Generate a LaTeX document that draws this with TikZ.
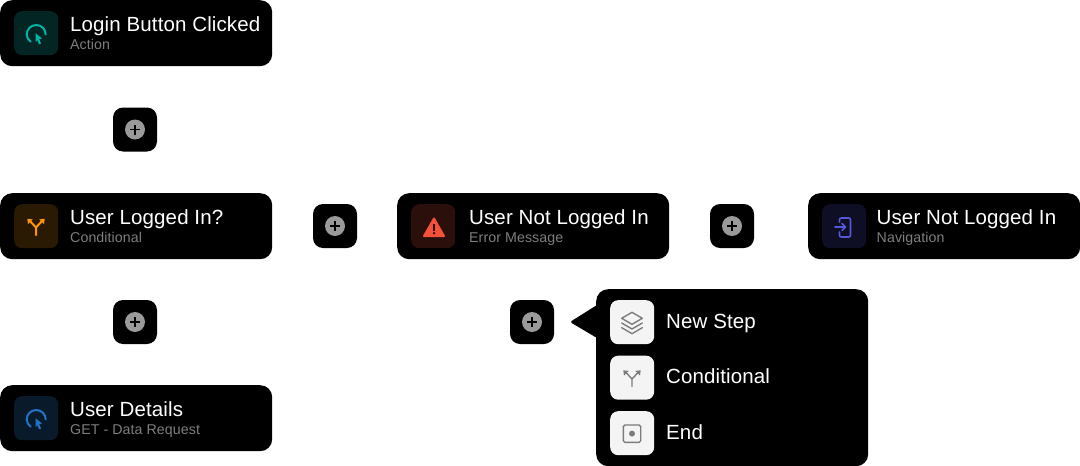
\documentclass[tikz,border=0pt]{standalone}
\usepackage{fontspec}
\usetikzlibrary{calc}
\setmainfont{Liberation Sans}[LetterSpace=0.6]
\definecolor{subgray}{HTML}{7E7E7E}
\definecolor{plusgray}{HTML}{9A9A9A}
\definecolor{tealc}{HTML}{00B5A5}\definecolor{tealt}{HTML}{032524}
\definecolor{orangec}{HTML}{FF9500}\definecolor{oranget}{HTML}{2A1A04}
\definecolor{redc}{HTML}{F55139}\definecolor{redt}{HTML}{2A0F0B}
\definecolor{indigoc}{HTML}{5458DC}\definecolor{indigot}{HTML}{0E0E24}
\definecolor{bluec}{HTML}{1F73C8}\definecolor{bluet}{HTML}{091B2A}
\definecolor{menutile}{HTML}{F4F4F5}\definecolor{menuicon}{HTML}{7C7C7C}
\tikzset{
 card/.style={fill=black,rounded corners=12pt,minimum width=272pt,minimum height=66pt,inner sep=0pt,anchor=north west},
 tile/.style={rounded corners=8pt,minimum width=44pt,minimum height=44pt,inner sep=0pt,anchor=north west},
 addbtn/.style={fill=black,rounded corners=10pt,minimum width=44pt,minimum height=44pt,inner sep=0pt,anchor=center},
 menubox/.style={fill=black,rounded corners=12pt,minimum width=272pt,minimum height=177pt,inner sep=0pt,anchor=north west},
 titletext/.style={text=white,inner sep=0pt,anchor=base west,font=\fontsize{20.5}{24}\selectfont},
 subtext/.style={text=subgray,inner sep=0pt,anchor=base west,font=\fontsize{14.2}{17}\selectfont},
 menutext/.style={text=white,inner sep=0pt,anchor=base west,font=\fontsize{20.5}{24}\selectfont},
 icn/.style={line width=2pt,line cap=round,line join=round},
}
\newcommand{\cursoricon}[1]{%
 \draw[icn,#1] (16.7,30.7) .. controls (14.2,29) and (12.7,26.4) .. (12.7,23.5) .. controls (12.7,18.26) and (16.96,14) .. (22.2,14) .. controls (27.44,14) and (31.7,18.26) .. (31.7,23.5);
 \fill[#1] (21.7,22.3) -- (28,27.5) -- (25.3,28) -- (27,32.5) -- (25,33.3) -- (23.3,29) -- (21.7,31) -- cycle;}
\newcommand{\forkicon}[2][2pt]{%
 \draw[line width=#1,line cap=round,line join=round,#2] (22,31) -- (22,23.5) -- (15.5,16.5);
 \draw[line width=#1,line cap=round,line join=round,#2] (22,23.5) -- (28.5,16.5);
 \fill[#2] (13.3,14.8) -- (18.8,15.4) -- (14,20) -- cycle;
 \fill[#2] (30.7,14.8) -- (25.2,15.4) -- (30,20) -- cycle;}
\newcommand{\warnicon}[1]{%
 \draw[#1,fill=#1,line width=2pt,line join=round] (23,14.5) -- (33,32) -- (13,32) -- cycle;
 \fill[black!85!#1] (22,19.5) rectangle (24,27);
 \fill[black!85!#1] (23,29.2) circle (1.3);}
\newcommand{\navicon}[1]{%
 \draw[line width=1.6pt,line cap=round,line join=round,#1] (17.5,18) -- (17.5,16) .. controls (17.5,14.5) and (18,14) .. (19.5,14) -- (26.5,14) .. controls (28,14) and (28.5,14.5) .. (28.5,16) -- (28.5,31) .. controls (28.5,32.5) and (28,33) .. (26.5,33) -- (19.5,33) .. controls (18,33) and (17.5,32.5) .. (17.5,31) -- (17.5,28);
 \draw[line width=1.6pt,line cap=round,line join=round,#1] (13,23) -- (23.5,23) (20,19.5) -- (23.5,23) -- (20,26.5);}
\newcommand{\layersicon}{%
 \draw[menuicon,line width=1.4pt,line join=round] (22,12.3) -- (32.3,18.3) -- (22,24.3) -- (11.7,18.3) -- cycle;
 \draw[menuicon,line width=1.4pt,line join=round,line cap=round] (11.7,23) -- (22,29) -- (32.3,23);
 \draw[menuicon,line width=1.4pt,line join=round,line cap=round] (11.7,27.7) -- (22,33.7) -- (32.3,27.7);}
\newcommand{\stopicon}{%
 \draw[menuicon,line width=1.4pt,rounded corners=1.5pt] (13.3,14) rectangle (30.7,31.3);
 \fill[menuicon] (22,22.6) circle (3);}
\newcommand{\cardnode}[8]{%
 \node[card] (#1) at (#2,#3) {};
 \node[tile,fill=#4] (#1tile) at (#2+14,#3+11) {};
 \begin{scope}[shift={(#2+14,#3+11)}]#7\end{scope}
 \node[titletext] (#1title) at (#2+#8,#3+31) {#5};
 \node[subtext] (#1sub) at (#2+#8,#3+49) {#6};}
\newcommand{\addnode}[3]{%
 \node[addbtn] (#1) at (#2,#3) {};
 \fill[plusgray] (#1.center) circle (10);
 \draw[black,line width=1.4pt] ($(#1.center)+(-5,0)$) -- ($(#1.center)+(5,0)$);
 \draw[black,line width=1.4pt] ($(#1.center)+(0,-5)$) -- ($(#1.center)+(0,5)$);}
\begin{document}
\begin{tikzpicture}[x=1pt,y=-1pt]
\useasboundingbox (0,0) rectangle (1080,466);
\fill[white] (0,0) rectangle (1080,466);
\cardnode{login}{0}{0}{tealt}{Login Button Clicked}{Action}{\cursoricon{tealc}}{70}
\cardnode{cond}{0}{193}{oranget}{User Logged In?}{Conditional}{\forkicon{orangec}}{70}
\cardnode{details}{0}{385}{bluet}{User Details}{GET - Data Request}{\cursoricon{bluec}}{70}
\cardnode{error}{397}{193}{redt}{User Not Logged In}{Error Message}{\warnicon{redc}}{72}
\cardnode{nav}{808}{193}{indigot}{User Not Logged In}{Navigation}{\navicon{indigoc}}{68.5}
\addnode{addA}{135}{129.5}
\addnode{addB}{135}{322}
\addnode{addC}{335}{226}
\addnode{addD}{732}{226}
\addnode{addE}{532}{322}
\node[menubox] (menu) at (596,289) {};
\fill[black,rounded corners=1.5pt] (597,305) -- (570,322) -- (597,338) -- cycle;
\node[tile,fill=menutile] (tileA) at (610,300) {};
\node[tile,fill=menutile] (tileB) at (610,355.5) {};
\node[tile,fill=menutile] (tileC) at (610,411) {};
\begin{scope}[shift={(610,300)}]\layersicon\end{scope}
\begin{scope}[shift={(610,355.5)}]\forkicon[1.4pt]{menuicon}\end{scope}
\begin{scope}[shift={(610,411)}]\stopicon\end{scope}
\node[menutext] (lblA) at (666,328) {New Step};
\node[menutext] (lblB) at (666,383.5) {Conditional};
\node[menutext] (lblC) at (666,439) {End};
\end{tikzpicture}
\end{document}
